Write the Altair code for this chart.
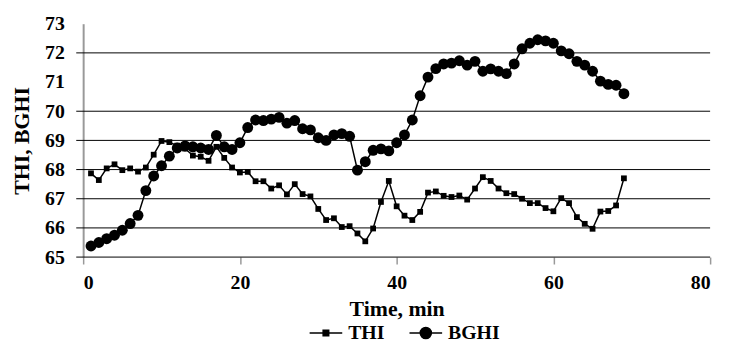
import altair as alt
import pandas as pd

time_min = list(range(1, 70))
thi = [67.87, 67.64, 68.04, 68.18, 67.98, 68.04, 67.93, 68.07, 68.51, 68.98,
       68.94, 68.82, 68.72, 68.48, 68.44, 68.30, 68.78, 68.40, 68.07, 67.90,
       67.92, 67.60, 67.60, 67.35, 67.46, 67.15, 67.50, 67.16, 67.08, 66.65,
       66.27, 66.33, 66.03, 66.06, 65.81, 65.54, 65.98, 66.89, 67.61, 66.74,
       66.42, 66.27, 66.55, 67.21, 67.25, 67.10, 67.06, 67.11, 66.97, 67.35,
       67.74, 67.61, 67.35, 67.19, 67.16, 67.00, 66.85, 66.85, 66.68, 66.57,
       67.02, 66.85, 66.37, 66.14, 65.97, 66.56, 66.58, 66.77, 67.70]
bghi = [65.38, 65.50, 65.63, 65.75, 65.92, 66.15, 66.43, 67.28, 67.78, 68.13,
        68.46, 68.74, 68.81, 68.78, 68.74, 68.69, 69.17, 68.78, 68.69, 68.92,
        69.44, 69.70, 69.68, 69.73, 69.79, 69.59, 69.68, 69.40, 69.36, 69.09,
        69.00, 69.19, 69.23, 69.14, 67.98, 68.27, 68.66, 68.71, 68.64, 68.92,
        69.19, 69.70, 70.53, 71.17, 71.46, 71.62, 71.65, 71.73, 71.58, 71.71,
        71.37, 71.45, 71.37, 71.29, 71.62, 72.14, 72.33, 72.45, 72.41, 72.33,
        72.07, 71.97, 71.71, 71.58, 71.37, 71.03, 70.92, 70.89, 70.60]
series_names = ["THI", "BGHI"]
y_labels = [65, 66, 67, 68, 69, 70, 71, 72, 73]
x_labels = [0, 20, 40, 60, 80]
grid_values = [65, 66, 67, 68, 69, 70, 72]

df_thi = pd.DataFrame({"Time": time_min, "Value": thi, "Series": "THI"})
df_bghi = pd.DataFrame({"Time": time_min, "Value": bghi, "Series": "BGHI"})
df = pd.concat([df_thi, df_bghi])
grid_df = pd.DataFrame({"Value": grid_values})

FONT = "Liberation Serif"
W, H = 634, 236

xscale = alt.Scale(domain=[0, 80], nice=False)
yscale = alt.Scale(domain=[65, 73], nice=False)

x_axis = alt.Axis(
    title="Time, min", values=x_labels, grid=False, domain=False,
    ticks=True, tickColor="#999999", tickSize=7, tickWidth=1.5,
    labelFont=FONT, labelFontWeight="bold", labelFontSize=20, labelColor="black",
    labelPadding=9, titleFont=FONT, titleFontWeight="bold", titleFontSize=22,
    titleColor="black", titlePadding=6)
y_axis = alt.Axis(
    title="THI, BGHI", values=y_labels, grid=False, ticks=False,
    domainColor="#999999", domainWidth=2,
    labelFont=FONT, labelFontWeight="bold", labelFontSize=20, labelColor="black",
    labelPadding=19, titleFont=FONT, titleFontWeight="bold", titleFontSize=22,
    titleColor="black", titlePadding=11)

X = alt.X("Time:Q", scale=xscale, axis=x_axis)
Y = alt.Y("Value:Q", scale=yscale, axis=y_axis)

grid = alt.Chart(grid_df).mark_rule(color="black", strokeWidth=1).encode(
    y=Y, x=alt.value(-7), x2=alt.value(W))

lines = alt.Chart(df).mark_line(color="black", strokeWidth=1.5).encode(
    x=X, y=Y, detail="Series:N")

pts_thi = alt.Chart(df_thi).mark_point(filled=True, color="black", opacity=1,
                                       shape="square", size=34).encode(x=X, y=Y)
pts_bghi = alt.Chart(df_bghi).mark_point(filled=True, color="black", opacity=1,
                                         shape="circle", size=121).encode(x=X, y=Y)

legend_paths = [
    "M-1,0H1M-0.17,-0.17H0.17V0.17H-0.17Z",
    "M-1,0H1M0.34,0A0.34,0.34 0 1,1 -0.34,0A0.34,0.34 0 1,1 0.34,0Z",
]
leg = alt.Legend(title=None, orient="none", direction="horizontal",
                 legendX=228, legendY=295,
                 symbolSize=1089, symbolOpacity=1, symbolStrokeWidth=1.5,
                 labelFont=FONT, labelFontWeight="bold", labelFontSize=20,
                 labelColor="black", labelOffset=5, columnPadding=22)
legend_layer = alt.Chart(df).mark_point(opacity=0).encode(
    x=X, y=Y,
    shape=alt.Shape("Series:N", scale=alt.Scale(domain=series_names, range=legend_paths), legend=leg),
    fill=alt.Fill("Series:N", scale=alt.Scale(domain=series_names, range=["black", "black"]), legend=leg),
    stroke=alt.Stroke("Series:N", scale=alt.Scale(domain=series_names, range=["black", "black"]), legend=leg))

chart = alt.layer(grid, lines, pts_thi, pts_bghi, legend_layer).properties(
    width=W, height=H,
    autosize=alt.AutoSizeParams(type="none"),
    padding={"left": 76, "top": 14, "right": 11, "bottom": 85},
    background="white",
).configure_view(stroke=None)

chart.save("out.html", embed_options={"renderer": "svg", "actions": False})
